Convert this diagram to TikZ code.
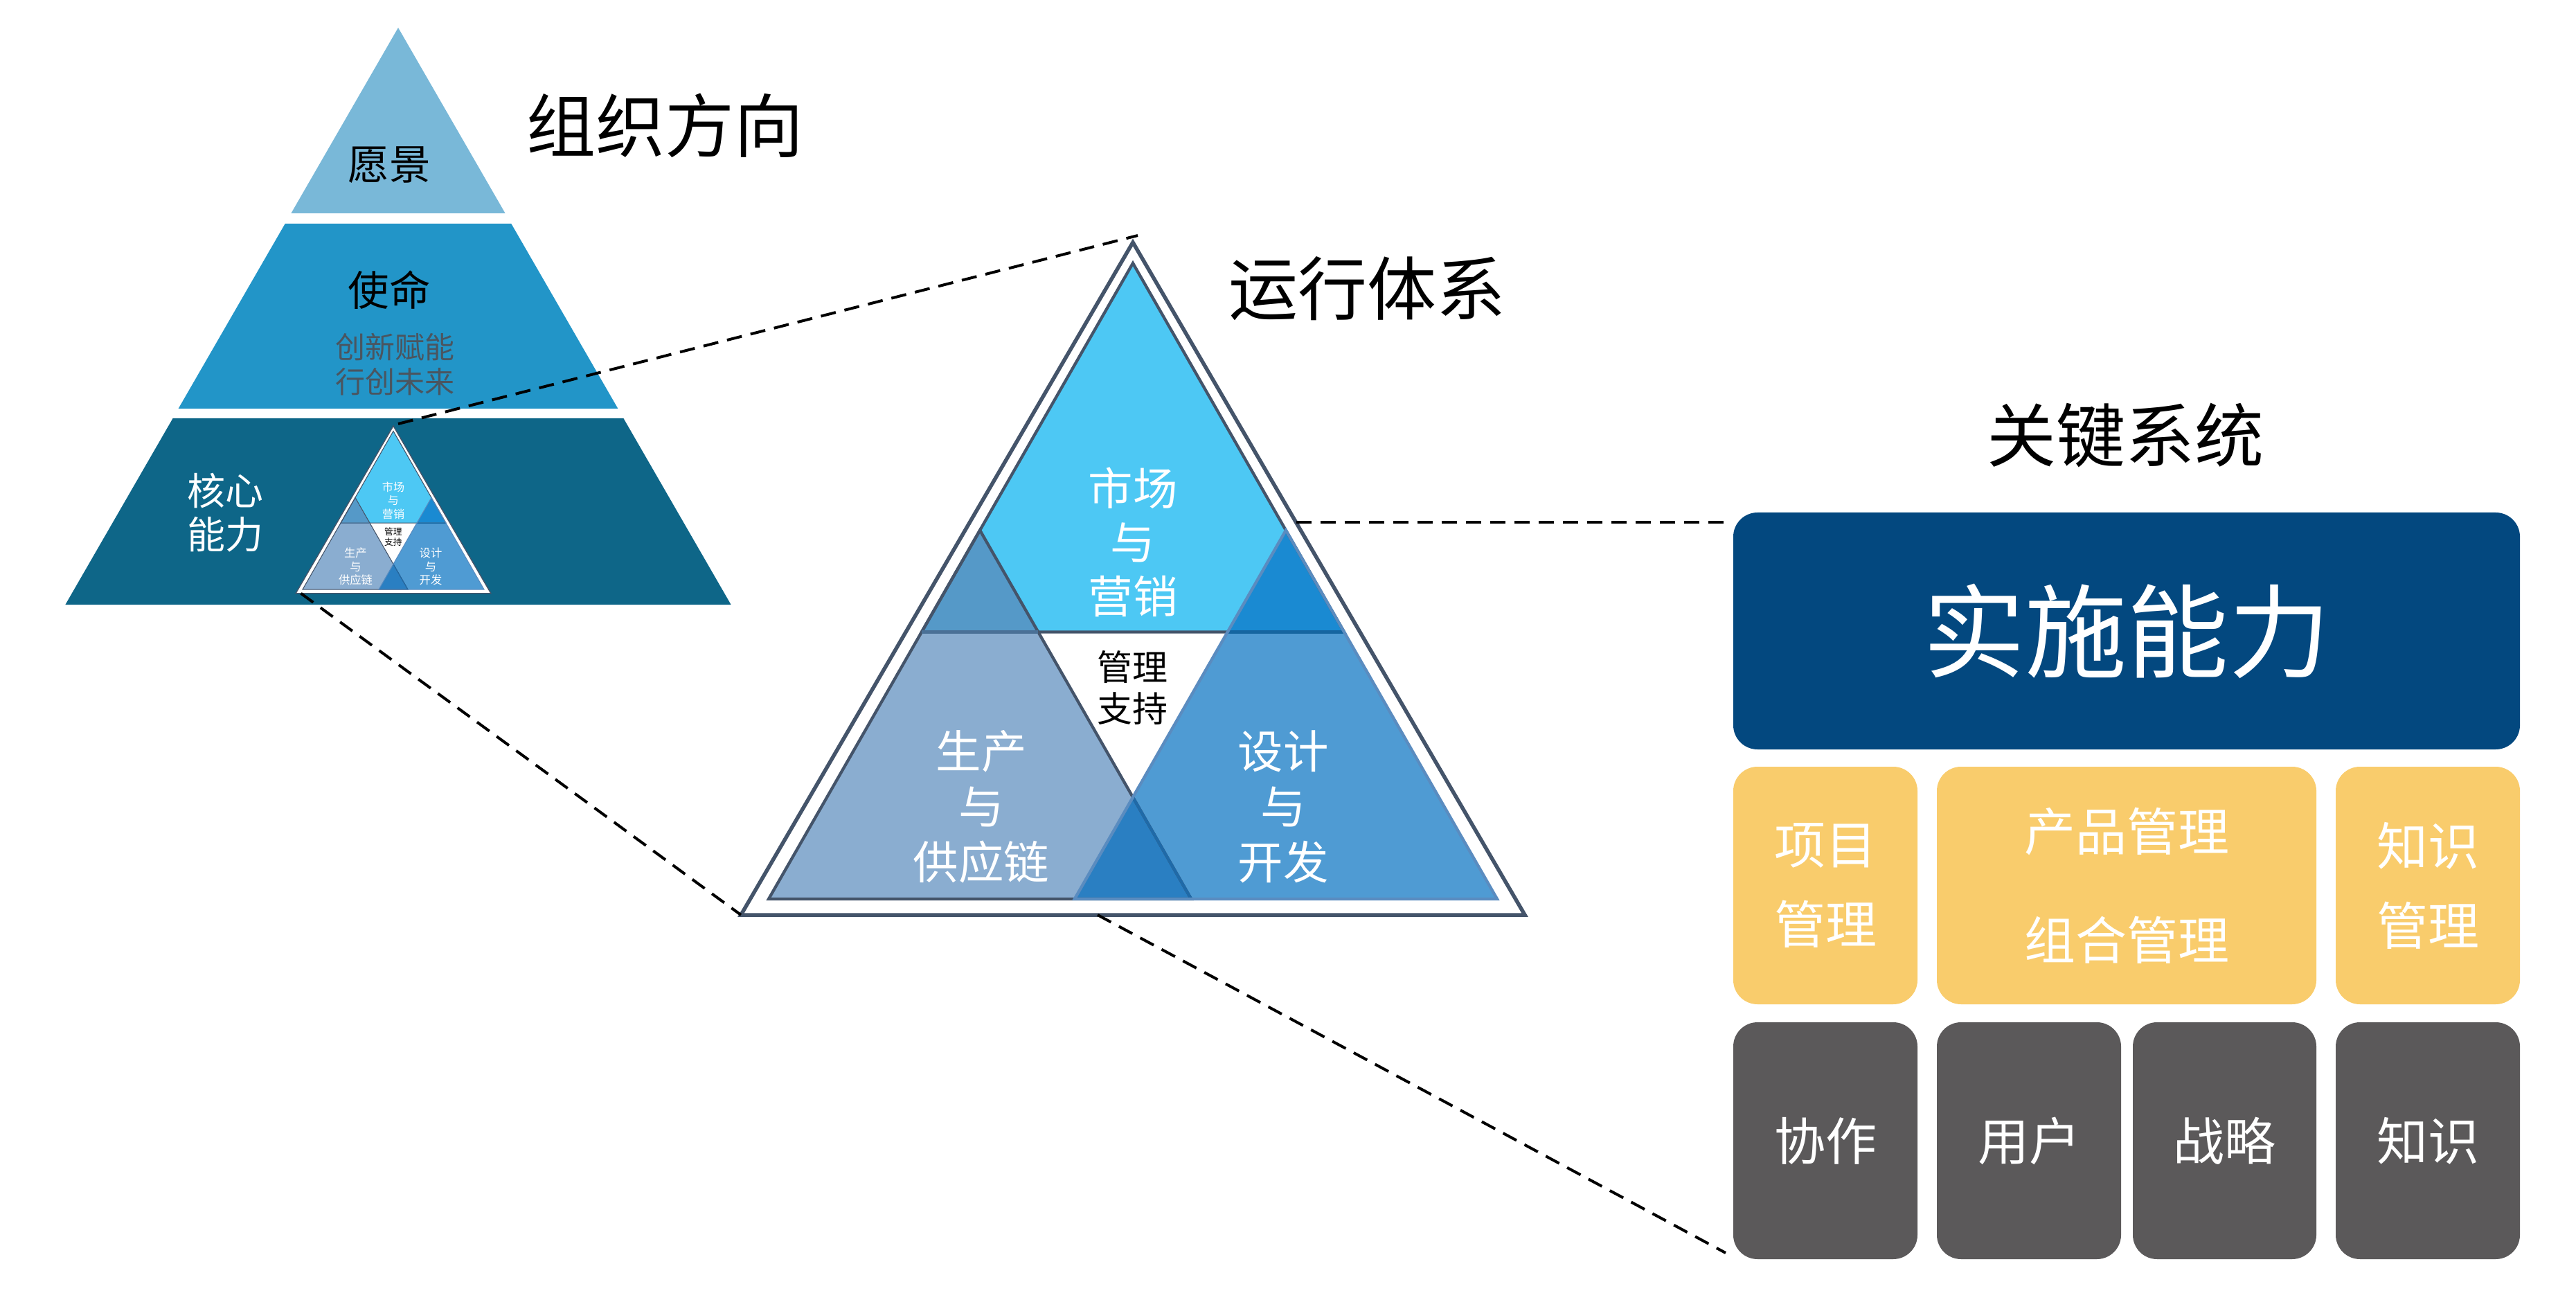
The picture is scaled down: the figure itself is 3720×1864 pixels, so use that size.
\documentclass[tikz,border=0pt]{standalone}
\usepackage{fontspec}
\setmainfont{Noto Sans CJK SC}
\usetikzlibrary{calc}
\definecolor{slate}{HTML}{44546A}
\definecolor{steel}{HTML}{5A8CC0}
\definecolor{topc}{HTML}{4DC8F4}
\definecolor{blc}{HTML}{8AADD0}
\definecolor{brc}{HTML}{4F9BD3}
\definecolor{tblc}{HTML}{5599C8}
\definecolor{tbrc}{HTML}{1A8AD2}
\definecolor{lrc}{HTML}{2A7FC2}
\definecolor{tblline}{HTML}{4A7096}
\definecolor{tbrline}{HTML}{1565A0}
\definecolor{lrline}{HTML}{1F6AA8}
\definecolor{tierA}{HTML}{79B8D8}
\definecolor{tierB}{HTML}{2295C8}
\definecolor{tierC}{HTML}{0E6688}
\definecolor{navy}{HTML}{03487F}
\definecolor{gold}{HTML}{F9CC6C}
\definecolor{darkgray}{HTML}{5B595A}
\definecolor{mottogray}{HTML}{4A5560}
\tikzset{
  tritext/.style={text=white, align=center, inner sep=0pt},
  dashconn/.style={draw=black, line width=0.8pt, dash pattern=on 4.4pt off 2.6pt},
  boxnode/.style={rounded corners=7pt, inner sep=0pt, text=white, align=center},
  title/.style={inner sep=0pt, font=\fontsize{20}{24}\selectfont},
}
% #1 shift, #2 scale, #3 name prefix
\newcommand\opsys[3]{%
\begin{scope}[shift={#1}, scale=#2, transform shape]
  \filldraw[fill=white, draw=slate, line width=#2*1.1pt, line join=miter]
    (0,0) -- (-566,971) -- (566,971) -- cycle;
  \fill[topc] (0,30) -- (-305,562.4) -- (305,562.4) -- cycle;
  \fill[blc] (-526,948) -- (-220.9,415.6) -- (84.2,948) -- cycle;
  \fill[brc] (526,948) -- (220.9,415.6) -- (-84.2,948) -- cycle;
  \fill[tblc] (-305,562.4) -- (-220.9,415.6) -- (-136.8,562.4) -- cycle;
  \fill[tbrc] (305,562.4) -- (220.9,415.6) -- (136.8,562.4) -- cycle;
  \fill[lrc] (-84.2,948) -- (84.2,948) -- (0,801.1) -- cycle;
  \draw[slate, line width=#2*0.85pt] (0,30) -- (-305,562.4) -- (305,562.4) -- cycle;
  \draw[slate, line width=#2*0.85pt] (-526,948) -- (-220.9,415.6) -- (84.2,948) -- cycle;
  \draw[tblline, line width=#2*0.85pt] (-305,562.4) -- (-136.8,562.4);
  \draw[tbrline, line width=#2*0.85pt] (136.8,562.4) -- (305,562.4);
  \draw[lrline, line width=#2*0.85pt] (0,801.1) -- (84.2,948);
  \draw[steel, line width=#2*0.85pt] (526,948) -- (220.9,415.6) -- (-84.2,948) -- cycle;
  \coordinate (#3O) at (0,0);
  \coordinate (#3OL) at (-566,971);
  \coordinate (#3OR) at (566,971);
  \coordinate (#3E) at (235.5,404);
  \coordinate (#3B) at (-51,971);
  \node[tritext, font=\fontsize{12.9}{15.6}\selectfont] (#3mk) at (0,433) {市场\\与\\营销};
  \node[tritext, text=black, font=\fontsize{10.2}{12}\selectfont] (#3mg) at (-1,643) {管理\\支持};
  \node[tritext, font=\fontsize{13.1}{16}\selectfont] (#3pr) at (-219,815) {生产\\与\\供应链};
  \node[tritext, font=\fontsize{13.1}{16}\selectfont] (#3ds) at (217,815) {设计\\与\\开发};
\end{scope}}

\begin{document}
\begin{tikzpicture}[x=0.2pt, y=-0.2pt]
\useasboundingbox[fill=white] (0,0) rectangle (3720,1864);

% ---- left pyramid ----
\fill[tierA] (575,40) -- (420.4,308) -- (729.6,308) -- cycle;
\fill[tierB] (411.7,323) -- (738.3,323) -- (892.4,590) -- (257.6,590) -- cycle;
\fill[tierC] (249.6,604) -- (900.4,604) -- (1055.6,873) -- (94.4,873) -- cycle;
\node[inner sep=0pt, font=\fontsize{11.9}{14}\selectfont] (vision) at (562,238) {愿景};
\node[inner sep=0pt, font=\fontsize{11.9}{14}\selectfont] (mission) at (562,419) {使命};
\node[inner sep=0pt, align=center, text=mottogray, font=\fontsize{8.6}{10}\selectfont] (motto) at (570,526) {创新赋能\\行创未来};
\node[inner sep=0pt, align=center, text=white, font=\fontsize{11}{12.6}\selectfont] (core) at (325,740) {核心\\能力};

\opsys{(568,615)}{0.249}{s}
\opsys{(1636,350)}{1}{b}

% ---- titles ----
\node[title] (t1) at (960,181) {组织方向};
\node[title] (t2) at (1974,417) {运行体系};
\node[title] (t3) at (3069,629) {关键系统};

% ---- key system boxes ----
\node[boxnode, fill=navy, minimum width=227.2pt, minimum height=68.4pt,
      font=\fontsize{29.4}{32}\selectfont] (impl) at (3071,911) {实施能力};
\node[boxnode, fill=gold, minimum width=53.2pt, minimum height=68.6pt,
      font=\fontsize{14.8}{23}\selectfont] (xm) at (2636,1278.5) {项目\\管理};
\node[boxnode, fill=gold, minimum width=109.6pt, minimum height=68.6pt,
      font=\fontsize{14.8}{31.4}\selectfont] (cp) at (3071,1278.5) {产品管理\\组合管理};
\node[boxnode, fill=gold, minimum width=53.2pt, minimum height=68.6pt,
      font=\fontsize{14.8}{23}\selectfont] (zsgl) at (3506,1278.5) {知识\\管理};
\node[boxnode, fill=darkgray, minimum width=53.2pt, minimum height=68.4pt,
      font=\fontsize{14.8}{18}\selectfont] (xz) at (2636,1647) {协作};
\node[boxnode, fill=darkgray, minimum width=53.2pt, minimum height=68.4pt,
      font=\fontsize{14.8}{18}\selectfont] (yh) at (2930,1647) {用户};
\node[boxnode, fill=darkgray, minimum width=53pt, minimum height=68.4pt,
      font=\fontsize{14.8}{18}\selectfont] (zl) at (3212.5,1647) {战略};
\node[boxnode, fill=darkgray, minimum width=53.2pt, minimum height=68.4pt,
      font=\fontsize{14.8}{18}\selectfont] (zs) at (3506,1647) {知识};

% ---- dashed connectors ----
\draw[dashconn] ([xshift=1.4pt,yshift=0.6pt]sO) -- ([xshift=1.4pt,yshift=2pt]bO);
\draw[dashconn] ([xshift=1.5pt]sOL) -- (bOL);
\draw[dashconn] (bE) -- ([xshift=-2pt]bE -| impl.west);
\draw[dashconn] (bB) -- ([xshift=-2pt,yshift=2pt]xz.south west);
\end{tikzpicture}
\end{document}
